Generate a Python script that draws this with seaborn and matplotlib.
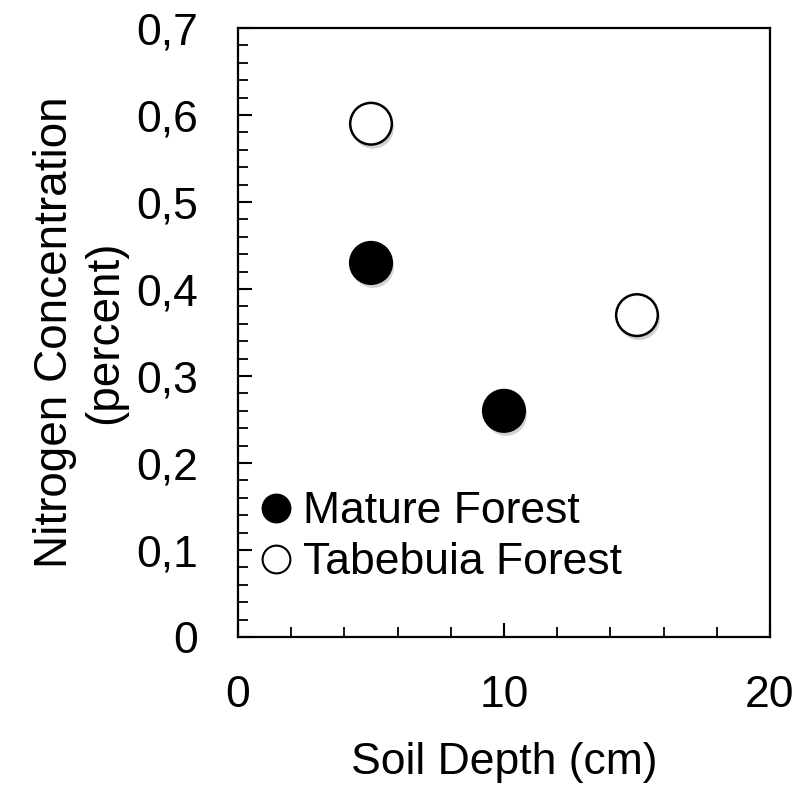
import pandas as pd
import matplotlib
matplotlib.use("Agg")
import matplotlib.pyplot as plt
import matplotlib.patheffects as pe
from matplotlib.ticker import MultipleLocator, FuncFormatter
from matplotlib.lines import Line2D
import seaborn as sns

forest = ["Mature Forest", "Mature Forest", "Tabebuia Forest", "Tabebuia Forest"]
depth = [5, 10, 5, 15]
nitrogen = [0.43, 0.26, 0.59, 0.37]

df = pd.DataFrame({"forest": forest, "depth": depth, "nitrogen": nitrogen})

sns.set_theme(style="ticks")
plt.rcParams['font.family'] = ['Liberation Sans', 'DejaVu Sans']
plt.rcParams['text.color'] = 'black'
plt.rcParams['axes.labelcolor'] = 'black'

fig = plt.figure(figsize=(8.11, 7.85), dpi=100)
ax = fig.add_axes([0.2935, 0.1885, 0.6559, 0.7758])

colors = {"Mature Forest": "black", "Tabebuia Forest": "white"}
shadow = [pe.SimplePatchShadow(offset=(1.5, -3), shadow_rgbFace="0.5", alpha=0.35), pe.Normal()]
sns.scatterplot(data=df, x="depth", y="nitrogen", hue="forest", palette=colors,
                s=900, edgecolor="black", linewidth=1.8, legend=False, ax=ax, zorder=3)
for coll in ax.collections:
    coll.set_path_effects(shadow)

ax.set_xlim(0, 20)
ax.set_ylim(0, 0.7)
ax.xaxis.set_major_locator(MultipleLocator(10))
ax.xaxis.set_minor_locator(MultipleLocator(2))
ax.yaxis.set_major_locator(MultipleLocator(0.1))
ax.yaxis.set_minor_locator(MultipleLocator(0.02))
ax.yaxis.set_major_formatter(FuncFormatter(lambda v, p: "0" if abs(v) < 1e-9 else f"{v:.1f}".replace(".", ",")))
ax.xaxis.set_major_formatter(FuncFormatter(lambda v, p: f"{v:.0f}"))

for s in ax.spines.values():
    s.set_linewidth(1.6)
    s.set_color("black")
ax.tick_params(axis="both", which="major", direction="in", length=10, width=1.5,
               labelsize=32, colors="black")
ax.tick_params(axis="both", which="minor", direction="in", length=7.5, width=1.3, colors="black")
ax.tick_params(axis="x", which="major", pad=27)
ax.tick_params(axis="y", which="major", pad=29)

ax.set_xlabel("Soil Depth (cm)", fontsize=32, labelpad=19)
ax.set_ylabel("Nitrogen Concentration\n(percent)", fontsize=33, labelpad=6)

handles = [Line2D([], [], marker="o", linestyle="", markersize=20, markerfacecolor="black",
                  markeredgecolor="black", markeredgewidth=1.5),
           Line2D([], [], marker="o", linestyle="", markersize=20, markerfacecolor="white",
                  markeredgecolor="black", markeredgewidth=1.5)]
ax.legend(handles, ["Mature Forest", "Tabebuia Forest"], loc="lower left",
          bbox_to_anchor=(0.038, 0.088), frameon=False, fontsize=32,
          handletextpad=0.2, handlelength=0.8, borderpad=0, borderaxespad=0,
          labelspacing=0.23)

fig.savefig("out.png", dpi=100)
